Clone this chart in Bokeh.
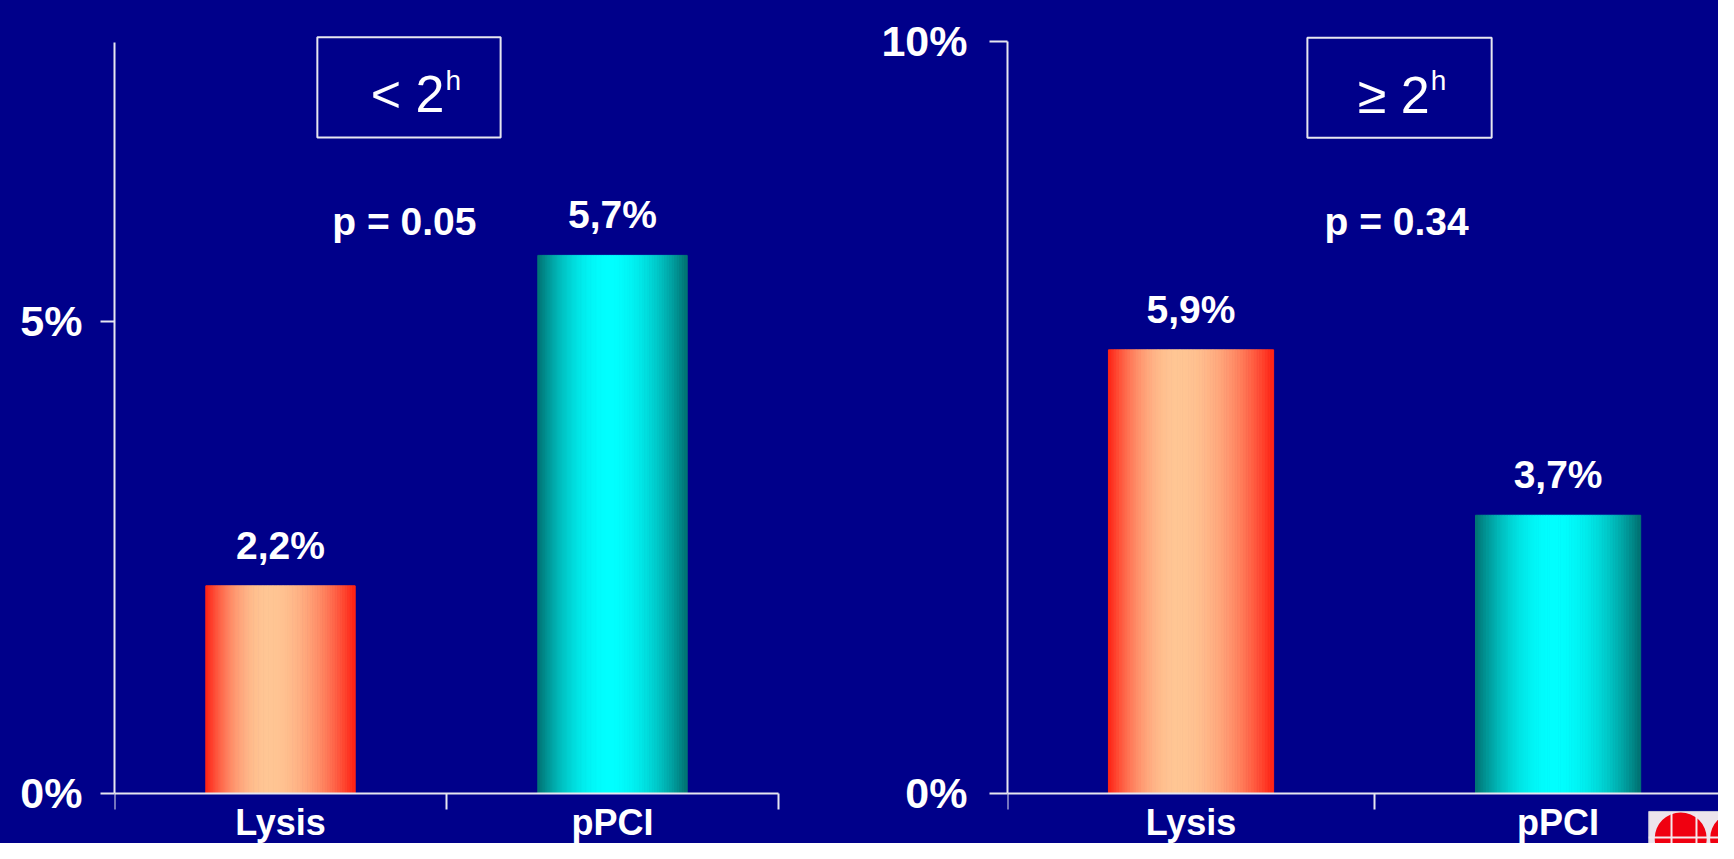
from bokeh.plotting import figure
from bokeh.layouts import row
from bokeh.models import FixedTicker, Range1d, BoxAnnotation, Label, LabelSet, ColumnDataSource
from bokeh.embed import file_html
from bokeh.resources import INLINE
from bokeh.core.properties import value

# ---------------- data ----------------
categories = ["Lysis", "pPCI"]
panel_titles = ["< 2", "\u2265 2"]
panel_superscripts = ["h", "h"]
lt2_values = [2.2, 5.7]
ge2_values = [5.9, 3.7]
lt2_value_labels = ["2,2%", "5,7%"]
ge2_value_labels = ["5,9%", "3,7%"]
p_value_texts = ["p = 0.05", "p = 0.34"]
lt2_yticks = [0, 5]
ge2_yticks = [0, 10]
lt2_ytick_labels = ["0%", "5%"]
ge2_ytick_labels = ["0%", "10%"]
lt2_axis_top = 7.95
ge2_axis_top = 10

# ---------------- style ----------------
BG = "#00008A"
AXIS = "#E6E6F0"
FONT = "Liberation Sans"
BAR_WIDTH = 0.45
BAR_EDGE = [(255, 32, 18), (0, 112, 112)]
BAR_CENTER = [(255, 198, 148), (0, 255, 255)]
BAR_PEAK = [0.42, 0.48]


def shade(t, i):
    pk = BAR_PEAK[i]
    d = (t - pk) / (pk if t < pk else 1 - pk)
    s = max(0.0, 1 - d * d)
    e, c = BAR_EDGE[i], BAR_CENTER[i]
    rgb = [int(round(e[k] + (c[k] - e[k]) * s)) for k in range(3)]
    return "#%02x%02x%02x" % tuple(rgb)


def make_panel(vals, vlabels, yticks, ytick_labels, axis_top, y_start, y_end, x_end, width,
               border_left, ytick_out, ystandoff, box, title, title_xy, sup, sup_xy,
               ptext, p_xy):
    p = figure(width=width, height=843, x_range=Range1d(0, x_end),
               y_range=Range1d(y_start, y_end),
               output_backend="svg", toolbar_location=None,
               min_border_left=border_left, min_border_right=0, min_border_top=0,
               min_border_bottom=0, background_fill_color=BG, border_fill_color=BG,
               outline_line_color=None)
    p.grid.visible = False

    n = len(categories)
    xa = p.xaxis[0]
    xa.fixed_location = 0
    xa.ticker = FixedTicker(ticks=[i + 0.5 for i in range(n)], minor_ticks=list(range(n + 1)))
    xa.major_label_overrides = {i + 0.5: c for i, c in enumerate(categories)}
    xa.bounds = (0, n)
    xa.major_tick_out = 0
    xa.major_tick_in = 0
    xa.minor_tick_out = 16
    xa.minor_tick_in = 0
    xa.minor_tick_line_color = AXIS
    xa.minor_tick_line_width = 2
    xa.axis_line_color = AXIS
    xa.axis_line_width = 2
    xa.major_label_text_color = "white"
    xa.major_label_text_font = FONT
    xa.major_label_text_font_style = "bold"
    xa.major_label_text_font_size = "36px"
    xa.major_label_standoff = -7

    ya = p.yaxis[0]
    ya.ticker = FixedTicker(ticks=yticks, minor_ticks=[])
    ya.major_label_overrides = {t: l for t, l in zip(yticks, ytick_labels)}
    ya.bounds = (0, axis_top)
    ya.major_tick_out = ytick_out
    ya.major_tick_in = 0
    ya.major_tick_line_color = AXIS
    ya.major_tick_line_width = 2
    ya.minor_tick_out = 0
    ya.minor_tick_in = 0
    ya.axis_line_color = AXIS
    ya.axis_line_width = 2
    ya.major_label_text_color = "white"
    ya.major_label_text_font = FONT
    ya.major_label_text_font_style = "bold"
    ya.major_label_text_font_size = "43px"
    ya.major_label_standoff = ystandoff

    # gradient bars drawn as thin vertical slices
    N = 60
    xs, tops, cols = [], [], []
    for i, v in enumerate(vals):
        x0 = i + 0.5 - BAR_WIDTH / 2
        for k in range(N):
            t = (k + 0.5) / N
            xs.append(x0 + t * BAR_WIDTH)
            tops.append(v)
            cols.append(shade(t, i))
    src = ColumnDataSource(dict(x=xs, top=tops, color=cols))
    p.vbar(x="x", top="top", bottom=0, width=BAR_WIDTH / N, source=src,
           fill_color="color", line_color="color", line_width=1)

    lsrc = ColumnDataSource(dict(x=[i + 0.5 for i in range(n)], y=vals, text=vlabels))
    p.add_layout(LabelSet(x="x", y="y", text="text", source=lsrc, text_align="center",
                          text_baseline="bottom", y_offset=19, text_color="white",
                          text_font=value(FONT), text_font_style="bold",
                          text_font_size="39px"))

    p.add_layout(BoxAnnotation(left=box[0], right=box[1], bottom=box[2], top=box[3],
                               fill_alpha=0, line_color=AXIS, line_width=2, line_alpha=1))
    p.add_layout(Label(x=title_xy[0], y=title_xy[1], text=title, text_align="right",
                       text_baseline="alphabetic", text_color="white", text_font=FONT,
                       text_font_size="52px"))
    p.add_layout(Label(x=sup_xy[0], y=sup_xy[1], text=sup, text_align="left",
                       text_baseline="alphabetic", text_color="white", text_font=FONT,
                       text_font_size="28px"))
    p.add_layout(Label(x=p_xy[0], y=p_xy[1], text=ptext, text_align="center",
                       text_baseline="middle", text_color="white", text_font=FONT,
                       text_font_style="bold", text_font_size="39px"))
    return p


left = make_panel(lt2_values, lt2_value_labels, lt2_yticks, lt2_ytick_labels, lt2_axis_top,
                  -0.53, 8.40, 2.247, 860, 114, 14, 18,
                  (0.611, 1.163, 6.95, 8.01), panel_titles[0], (0.994, 7.405),
                  panel_superscripts[0], (0.997, 7.553), p_value_texts[0], (0.873, 6.06))
right = make_panel(ge2_values, ge2_value_labels, ge2_yticks, ge2_ytick_labels, ge2_axis_top,
                   -0.665, 10.545, 1.937, 858, 147, 18, 22,
                   (0.817, 1.319, 8.72, 10.05), panel_titles[1], (1.150, 9.29),
                   panel_superscripts[1], (1.153, 9.483), p_value_texts[1], (1.060, 7.61))

# decorative corner logo of the slide (bottom right, partly cut off)
LOGO_BG = "#ECE4EC"
LOGO_RED = "#F00010"
right.quad(left=[1.747], right=[2.1], top=[-0.239], bottom=[-0.9],
           fill_color=LOGO_BG, line_color="#C8C8D8", line_width=1)
right.circle(x=[1.834, 1.985], y=[-0.598, -0.598], radius=26, radius_units="screen",
             fill_color=LOGO_RED, line_color=None)
right.segment(x0=[1.809, 1.877, 1.747], y0=[-0.26, -0.26, -0.585],
              x1=[1.809, 1.877, 2.1], y1=[-0.9, -0.9, -0.585],
              line_color="#F4E8EC", line_width=2)

layout = row(left, right, spacing=0)
layout.background = BG
open("out.html", "w").write(file_html(layout, INLINE))
